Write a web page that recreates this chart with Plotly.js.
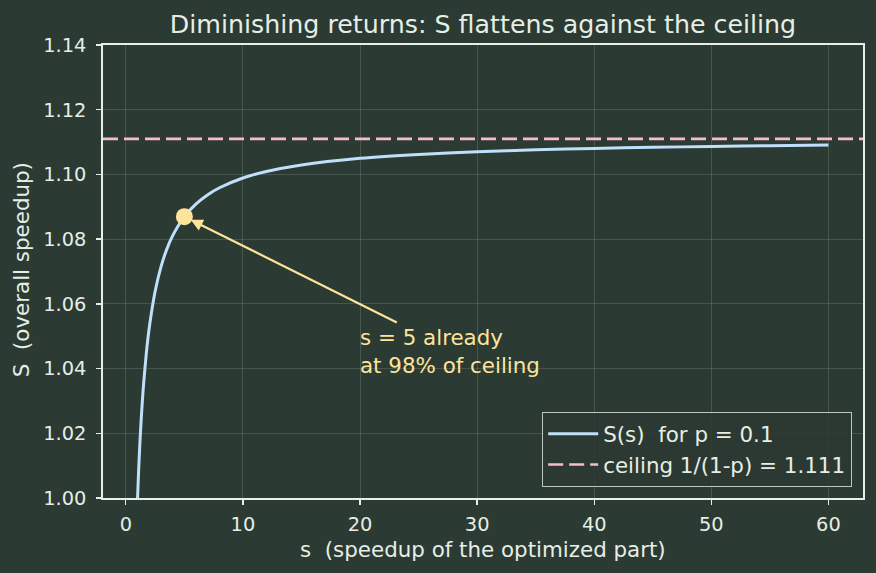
<!DOCTYPE html>
<html>
<head>
<meta charset="utf-8">
<script src="https://cdn.plot.ly/plotly-3.0.1.min.js"></script>
<style>
  html, body { margin: 0; padding: 0; background: #2b3a33; }
  #chart { width: 876px; height: 573px; }
</style>
</head>
<body>
<div id="chart"></div>
<script>
// Amdahl speedup for p = 0.1: overall speedup S against the part speedup s
const sValues = [1, 1.1, 1.2, 1.3, 1.4, 1.5, 1.75, 2, 2.5, 3, 3.5, 4, 5, 6, 7, 8, 10, 12, 15, 20, 25, 30, 35, 40, 45, 50, 55, 60];
const speedup = [1.0, 1.009174, 1.016949, 1.023622, 1.029412, 1.034483, 1.044776, 1.052632, 1.063830, 1.071429,
                 1.076923, 1.081081, 1.086957, 1.090909, 1.093750, 1.095890, 1.098901, 1.100917, 1.102941,
                 1.104972, 1.106195, 1.107011, 1.107595, 1.108033, 1.108374, 1.108647, 1.108871, 1.109057];
const ceiling = 1.111;
const xRange = [-1.95, 62.95];
const yRange = [1.00, 1.14];
const highlightS = [5];
const highlightSpeedup = [1.086957];
const xTicks = [0, 10, 20, 30, 40, 50, 60];
const yTicks = [1.00, 1.02, 1.04, 1.06, 1.08, 1.10, 1.12, 1.14];
const noteLines = ["s = 5 already", "at 98% of ceiling"];
const notePos = [20, 1.04];
const arrowTail = [23.27, 1.0540];

const bg = '#2b3a33';
const fg = '#e6eee6';
const gridCol = 'rgba(230,240,230,0.15)';
const curveCol = '#bfe0fb';
const ceilCol = '#f6bcc7';
const noteCol = '#fde49a';
const font = 'DejaVu Sans';

const traces = [
  {
    x: sValues, y: speedup, type: 'scatter', mode: 'lines',
    name: 'S(s)  for p = 0.1',
    line: { color: curveCol, width: 3, shape: 'spline', smoothing: 0.6 },
    hoverinfo: 'skip'
  },
  {
    x: xRange, y: [ceiling, ceiling], type: 'scatter', mode: 'lines',
    name: 'ceiling 1/(1-p) = 1.111',
    line: { color: ceilCol, width: 2.6, dash: '15px,6px' },
    hoverinfo: 'skip'
  },
  {
    x: highlightS, y: highlightSpeedup, type: 'scatter', mode: 'markers',
    showlegend: false,
    marker: { color: noteCol, size: 17, line: { width: 0 } },
    hoverinfo: 'skip'
  }
];

const axisCommon = {
  showline: true, mirror: true, linecolor: fg, linewidth: 1.8,
  ticks: 'outside', ticklen: 5, tickwidth: 1.3, tickcolor: fg,
  showgrid: true, gridcolor: gridCol, gridwidth: 1,
  zeroline: false, automargin: false,
  tickfont: { family: font, size: 19.4, color: fg }
};

const labelFont = { family: font, size: 21.4, color: fg };

const layout = {
  width: 876, height: 573,
  paper_bgcolor: bg, plot_bgcolor: bg,
  margin: { l: 103, r: 13, t: 45, b: 75, autoexpand: false },
  title: {
    text: 'Diminishing returns: S flattens against the ceiling',
    font: { family: font, size: 25.3, color: fg },
    x: 0.5, xanchor: 'center', xref: 'paper',
    y: 0.9576, yanchor: 'middle', yref: 'container'
  },
  xaxis: Object.assign({}, axisCommon, {
    range: xRange, tickvals: xTicks, ticktext: xTicks.map(String),
    ticklabelstandoff: 3
  }),
  yaxis: Object.assign({}, axisCommon, {
    range: yRange, tickvals: yTicks, ticktext: yTicks.map(v => v.toFixed(2)),
    ticklabelstandoff: 6
  }),
  legend: {
    x: 0.9855, xanchor: 'right', y: 0.024, yanchor: 'bottom',
    bgcolor: 'rgba(43,58,51,0.85)', bordercolor: 'rgba(225,232,225,0.8)', borderwidth: 1.2,
    font: labelFont, itemwidth: 50,
    tracegroupgap: 0
  },
  annotations: [
    // axis titles
    {
      xref: 'paper', yref: 'paper', x: 0.5, y: -0.114,
      xanchor: 'center', yanchor: 'middle', showarrow: false,
      text: 's  (speedup of the optimized part)', font: labelFont
    },
    {
      xref: 'paper', yref: 'paper', x: -0.108, y: 0.505,
      xanchor: 'center', yanchor: 'middle', showarrow: false, textangle: -90,
      text: 'S  (overall speedup)', font: labelFont
    },
    // arrow pointing at s = 5
    {
      x: highlightS[0], y: highlightSpeedup[0], xref: 'x', yref: 'y',
      ax: arrowTail[0], ay: arrowTail[1], axref: 'x', ayref: 'y',
      text: '', showarrow: true, arrowhead: 2, arrowsize: 1.1, arrowwidth: 2.2,
      arrowcolor: noteCol, standoff: 7
    },
    // note text
    {
      x: notePos[0], y: notePos[1], xref: 'x', yref: 'y', yshift: 17.4, xshift: -2,
      text: noteLines.join('<br>'), showarrow: false, xanchor: 'left', yanchor: 'middle',
      align: 'left',
      font: Object.assign({}, labelFont, { color: noteCol })
    }
  ],
  showlegend: true
};

Plotly.newPlot('chart', traces, layout, { displayModeBar: false, staticPlot: true });
</script>
</body>
</html>
